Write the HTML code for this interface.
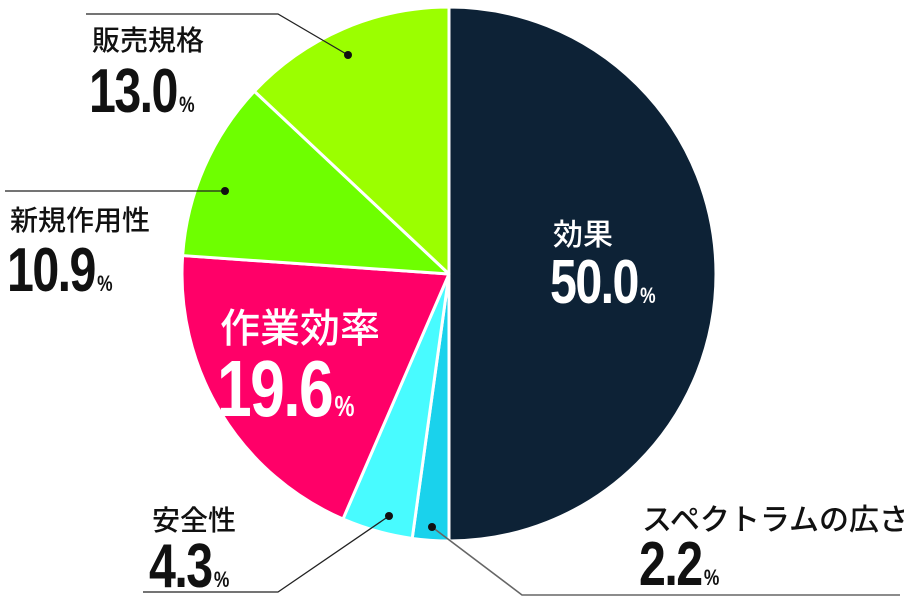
<!DOCTYPE html>
<html><head><meta charset="utf-8">
<style>
html,body{margin:0;padding:0;background:#fff;}
svg{display:block;}
.jp{font-family:"Liberation Sans","Noto Sans CJK JP",sans-serif;font-weight:500;}
.num{font-family:"Liberation Sans",sans-serif;font-weight:bold;}
</style></head>
<body>
<svg id="chart" width="904" height="608" viewBox="0 0 904 608" xmlns="http://www.w3.org/2000/svg">
  <g id="slices"></g>
  <g id="leaders" stroke="#222" stroke-width="1.3" fill="none">
    <polyline points="86,14 278,14 348,55"/>
    <polyline points="5,191 225,191"/>
    <polyline points="143,592 278,592 389,516"/>
    <polyline points="432,527 522,595 900,595" stroke="#666" stroke-width="1.6"/>
  </g>
  <g fill="#111">
    <circle cx="348" cy="55" r="4"/>
    <circle cx="225" cy="191" r="4"/>
    <circle cx="389" cy="516" r="4"/>
    <circle cx="432" cy="527" r="4"/>
  </g>
  <g id="labels"></g>
</svg>
<script>
const categories = ["効果","スペクトラムの広さ","安全性","作業効率","新規作用性","販売規格"];
const values = [50.0, 2.2, 4.3, 19.6, 10.9, 13.0];
const valueLabels = ["50.0","2.2","4.3","19.6","10.9","13.0"];
const colors = ["#0d2236","#1ad2ec","#48fbff","#ff0068","#6eff00","#9bff00"];
const cx = 449, cy = 274, r = 267;
const NS = "http://www.w3.org/2000/svg";
const total = values.reduce((a,b)=>a+b,0);
function angleOf(v){ return v/total*2*Math.PI; }
function pt(a){ return [cx + r*Math.sin(a), cy - r*Math.cos(a)]; }
const sg = document.getElementById('slices');
let acc = 0;
values.forEach((v,i)=>{
  const a0 = angleOf(acc), a1 = angleOf(acc+v);
  acc += v;
  const p0 = pt(a0), p1 = pt(a1);
  const large = (a1-a0) > Math.PI ? 1 : 0;
  const p = document.createElementNS(NS,'path');
  p.setAttribute('d',`M${cx},${cy} L${p0[0]},${p0[1]} A${r},${r} 0 ${large} 1 ${p1[0]},${p1[1]} Z`);
  p.setAttribute('fill',colors[i]);
  p.setAttribute('stroke','#fff');
  p.setAttribute('stroke-width','3');
  p.setAttribute('stroke-linejoin','round');
  
  
  sg.appendChild(p);
});
// label layout: [x, nameBaseline, nameSize, numBaseline, numSize, color]
const layout = [
  [553,245,30,303,62,"#fff"],
  [642,530,30,585,62,"#111"],
  [152,530,28,587,62,"#111"],
  [220,342,40,416,80,"#fff"],
  [10,230,28,291,62,"#111"],
  [92,50,28,112,62,"#111"]
];
const lg = document.getElementById('labels');
categories.forEach((c,i)=>{
  const L = layout[i];
  const g = document.createElementNS(NS,'g');
  
  
  const t = document.createElementNS(NS,'text');
  t.setAttribute('x',L[0]); t.setAttribute('y',L[1]);
  t.setAttribute('font-size',L[2]); t.setAttribute('fill',L[5]);
  t.setAttribute('class','jp');
  
  
  t.textContent = c;
  g.appendChild(t);
  const n = document.createElementNS(NS,'text');
  n.setAttribute('transform',`translate(${L[0]-3},${L[3]}) scale(0.78,1)`);
  n.setAttribute('font-size',L[4]); n.setAttribute('fill',L[5]);
  n.setAttribute('class','num');
  n.setAttribute('letter-spacing','-2');
  
  
  n.textContent = valueLabels[i];
  const s = document.createElementNS(NS,'tspan');
  s.setAttribute('font-size',L[4]*0.36);
  s.setAttribute('dx','3');
  s.textContent = '%';
  n.appendChild(s);
  g.appendChild(n);
  lg.appendChild(g);
});
</script>
</body></html>
